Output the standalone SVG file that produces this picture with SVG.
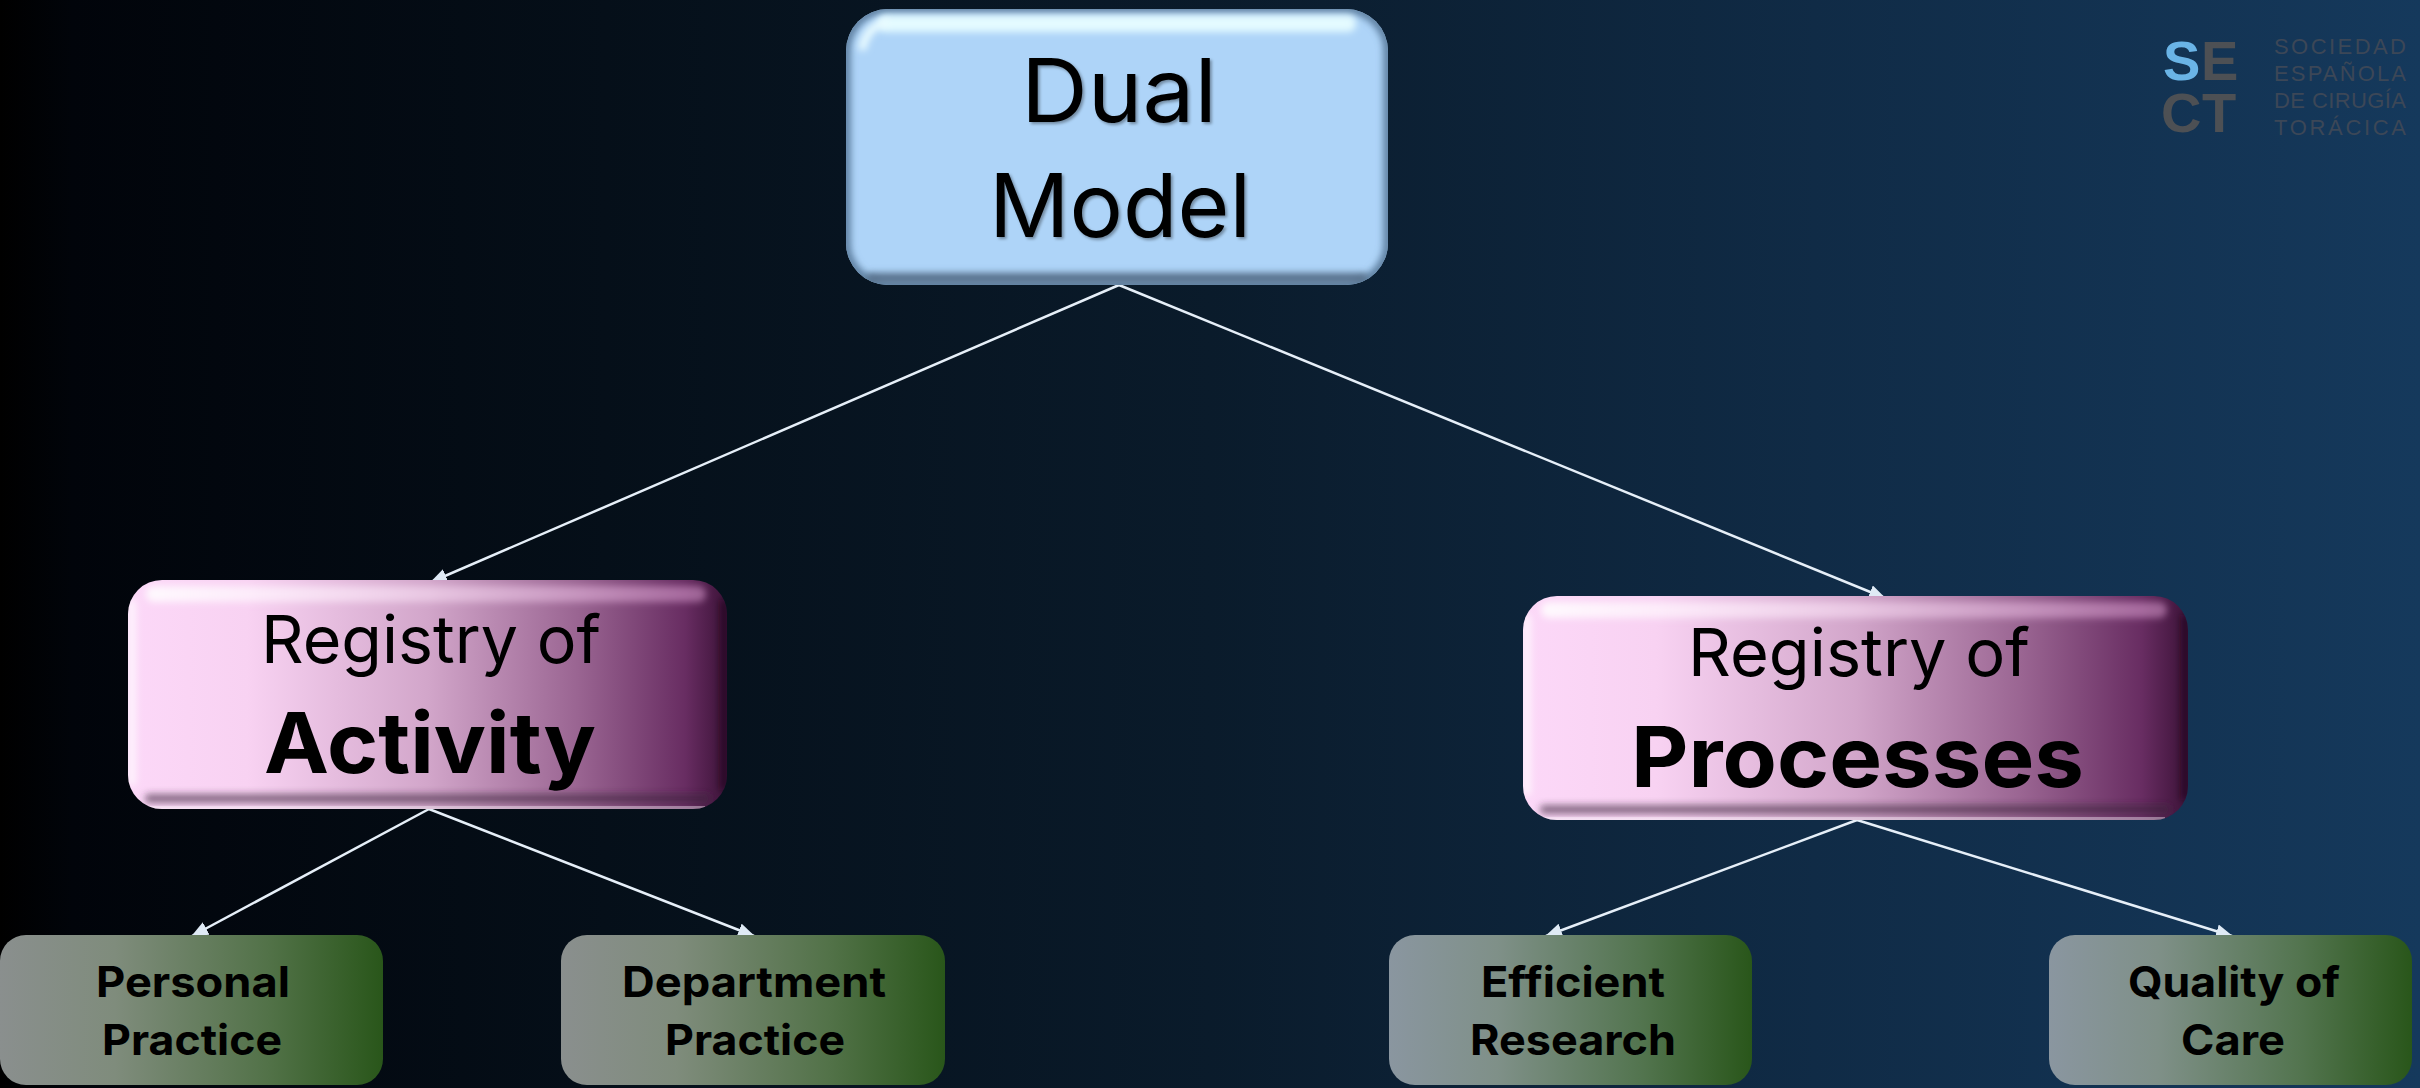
<svg xmlns="http://www.w3.org/2000/svg" width="2420" height="1088" viewBox="0 0 2420 1088">
<style>
text{font-family:"Inter","Liberation Sans",sans-serif;fill:#000}
.b{font-weight:700}
.s{filter:url(#ts)}
.c{stroke:#e6eff8;stroke-width:2.5;fill:none;marker-end:url(#arr)}
.lg{font-family:"Liberation Sans",sans-serif;font-weight:700;font-size:56px;fill:#4d5054}
.lt{font-family:"Liberation Sans",sans-serif;font-size:22px;fill:#3c4757}
.hl{fill:url(#hl);filter:url(#bl)}
.dk{fill:#3a2a3a;fill-opacity:.6;filter:url(#bl)}
</style>
<defs>
<linearGradient id="bg" x1="0" x2="1" y1="0" y2="0">
<stop offset="0" stop-color="#000"/><stop offset=".03" stop-color="#01040a"/><stop offset=".25" stop-color="#050f19"/><stop offset=".5" stop-color="#0a1b2b"/><stop offset=".75" stop-color="#102b46"/><stop offset="1" stop-color="#15395c"/>
</linearGradient>
<linearGradient id="pk" x1="0" x2="1" y1="0" y2="0">
<stop offset="0" stop-color="#fcd8f8"/><stop offset=".2" stop-color="#f8d2f2"/><stop offset=".5" stop-color="#d2a6ca"/><stop offset=".75" stop-color="#9a6592"/><stop offset=".93" stop-color="#682d62"/><stop offset="1" stop-color="#3c1238"/>
</linearGradient>
<linearGradient id="hl" x1="0" x2="1" y1="0" y2="0">
<stop offset="0" stop-color="#fff" stop-opacity=".85"/><stop offset=".5" stop-color="#ffe8fb" stop-opacity=".5"/><stop offset="1" stop-color="#f0b0e4" stop-opacity=".45"/>
</linearGradient>
<linearGradient id="gn1" x1="0" x2="1" y1="0" y2="0">
<stop offset="0" stop-color="#8a8f8e"/><stop offset=".3" stop-color="#7f8c7c"/><stop offset=".7" stop-color="#527248"/><stop offset="1" stop-color="#29561a"/>
</linearGradient>
<linearGradient id="gn2" x1="0" x2="1" y1="0" y2="0">
<stop offset="0" stop-color="#8a96a0"/><stop offset=".3" stop-color="#7f9088"/><stop offset=".7" stop-color="#52744e"/><stop offset="1" stop-color="#29561a"/>
</linearGradient>
<filter id="bl" filterUnits="userSpaceOnUse" x="0" y="0" width="2420" height="1088"><feGaussianBlur stdDeviation="3.5"/></filter>
<filter id="ts" x="-5%" y="-5%" width="110%" height="115%"><feDropShadow dx="2" dy="2" stdDeviation="1.5" flood-color="#000" flood-opacity=".35"/></filter>
<marker id="arr" markerUnits="userSpaceOnUse" markerWidth="20" markerHeight="16" refX="16" refY="7" orient="auto"><path d="M0 0L17 7L0 14Z" fill="#dfeaf5"/></marker>
<clipPath id="c0"><rect x="846" y="9" width="542" height="276" rx="42"/></clipPath>
<clipPath id="c1"><rect x="128" y="580" width="599" height="229" rx="34"/></clipPath>
<clipPath id="c2"><rect x="1523" y="596" width="665" height="224" rx="34"/></clipPath>
</defs>
<rect width="2420" height="1088" fill="url(#bg)"/>
<g id="logo">
<text class="lg" x="2163" y="80" style="fill:#6ab4e6">S</text><text class="lg" x="2201" y="80">E</text>
<text class="lg" x="2161" y="132">C</text><text class="lg" x="2202" y="132">T</text>
<text class="lt" x="2274" y="54" textLength="132">SOCIEDAD</text>
<text class="lt" x="2274" y="81" textLength="132">ESPAÑOLA</text>
<text class="lt" x="2274" y="108" textLength="132">DE CIRUGÍA</text>
<text class="lt" x="2274" y="135" textLength="132">TORÁCICA</text>
</g>
<g id="connectors">
<path class="c" d="M1119 285L431 582"/>
<path class="c" d="M1119 285L1885 598"/>
<path class="c" d="M429 809L192 936"/>
<path class="c" d="M429 809L754 936"/>
<path class="c" d="M1857 820L1546 936"/>
<path class="c" d="M1857 820L2232 936"/>
</g>
<g id="n-dual">
<rect x="846" y="9" width="542" height="276" rx="42" fill="#aed4f8"/>
<g clip-path="url(#c0)">
<rect x="846" y="9" width="542" height="276" rx="42" fill="none" stroke="#5a7b9c" stroke-width="9" filter="url(#bl)"/>
<rect x="878" y="15" width="478" height="17" rx="8" fill="#e4fbff" filter="url(#bl)"/>
<path d="M862 50Q866 26 888 22" stroke="#eafcff" stroke-width="8" fill="none" filter="url(#bl)"/>
<rect x="866" y="273" width="502" height="10" rx="5" fill="#566f8a" filter="url(#bl)"/>
</g>
<text class="s" x="1021" y="122" font-size="88" textLength="196" lengthAdjust="spacingAndGlyphs">Dual</text>
<text class="s" x="989" y="237" font-size="88" textLength="262" lengthAdjust="spacingAndGlyphs">Model</text>
</g>
<g id="n-activity">
<rect x="128" y="580" width="599" height="229" rx="34" fill="url(#pk)"/>
<g clip-path="url(#c1)">
<rect class="hl" x="146" y="586" width="560" height="16" rx="8"/>
<rect x="128" y="600" width="8" height="185" fill="#fff" fill-opacity=".7" filter="url(#bl)"/>
<rect class="dk" x="145" y="794" width="565" height="9" rx="4"/>
<rect x="150" y="806" width="555" height="3" fill="#fff" fill-opacity=".4"/>
<rect x="720" y="600" width="8" height="190" fill="#1a0518" fill-opacity=".6" filter="url(#bl)"/>
</g>
<text x="261" y="663" font-size="66" textLength="340" lengthAdjust="spacingAndGlyphs">Registry of</text>
<text class="b" x="264" y="773" font-size="84" textLength="332" lengthAdjust="spacingAndGlyphs">Activity</text>
</g>
<g id="n-processes">
<rect x="1523" y="596" width="665" height="224" rx="34" fill="url(#pk)"/>
<g clip-path="url(#c2)">
<rect class="hl" x="1541" y="602" width="626" height="16" rx="8"/>
<rect x="1523" y="615" width="8" height="180" fill="#fff" fill-opacity=".7" filter="url(#bl)"/>
<rect class="dk" x="1540" y="805" width="630" height="9" rx="4"/>
<rect x="1545" y="817" width="620" height="3" fill="#fff" fill-opacity=".4"/>
<rect x="2181" y="615" width="8" height="185" fill="#1a0518" fill-opacity=".6" filter="url(#bl)"/>
</g>
<text x="1688" y="676" font-size="66" textLength="342" lengthAdjust="spacingAndGlyphs">Registry of</text>
<text class="b" x="1631" y="787" font-size="84" textLength="453" lengthAdjust="spacingAndGlyphs">Processes</text>
</g>
<g id="n-personal">
<rect x="0" y="935" width="383" height="150" rx="26" fill="url(#gn1)"/>
<text class="b" x="96" y="997" font-size="42" textLength="194" lengthAdjust="spacingAndGlyphs">Personal</text>
<text class="b" x="102" y="1055" font-size="42" textLength="180" lengthAdjust="spacingAndGlyphs">Practice</text>
</g>
<g id="n-department">
<rect x="561" y="935" width="384" height="150" rx="26" fill="url(#gn1)"/>
<text class="b" x="622" y="997" font-size="42" textLength="264" lengthAdjust="spacingAndGlyphs">Department</text>
<text class="b" x="665" y="1055" font-size="42" textLength="180" lengthAdjust="spacingAndGlyphs">Practice</text>
</g>
<g id="n-efficient">
<rect x="1389" y="935" width="363" height="150" rx="26" fill="url(#gn2)"/>
<text class="b" x="1481" y="997" font-size="42" textLength="184" lengthAdjust="spacingAndGlyphs">Efficient</text>
<text class="b" x="1470" y="1055" font-size="42" textLength="206" lengthAdjust="spacingAndGlyphs">Research</text>
</g>
<g id="n-quality">
<rect x="2049" y="935" width="363" height="150" rx="26" fill="url(#gn2)"/>
<text class="b" x="2128" y="997" font-size="42" textLength="212" lengthAdjust="spacingAndGlyphs">Quality of</text>
<text class="b" x="2181" y="1055" font-size="42" textLength="104" lengthAdjust="spacingAndGlyphs">Care</text>
</g>
</svg>
